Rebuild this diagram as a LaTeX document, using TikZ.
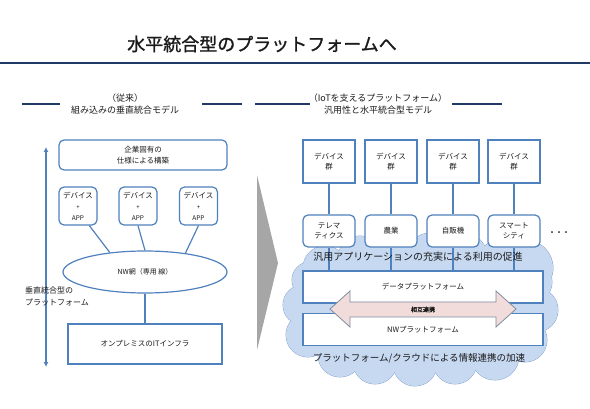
\documentclass[tikz,border=0pt]{standalone}
\usepackage{fontspec}
\setmainfont{Noto Sans CJK JP}
\newfontfamily\jpb[FakeBold=1.2]{Noto Sans CJK JP}
\newfontfamily\jpbb[FakeBold=3]{Noto Sans CJK JP}
\usetikzlibrary{shapes.geometric,arrows.meta}
\definecolor{bx}{HTML}{4F81BD}
\definecolor{navy}{HTML}{1F3A64}
\definecolor{cloudf}{HTML}{C6D9F1}
\definecolor{cloudb}{HTML}{7E9CC8}
\definecolor{pinkf}{HTML}{F2DCDB}
\definecolor{arrb}{HTML}{7F8CA0}
\definecolor{chev}{HTML}{A6A6A6}
\definecolor{txt}{HTML}{1A1A1A}
\begin{document}
\begin{tikzpicture}[x=1pt,y=-1pt,
  every node/.style={text=txt},
  box/.style={draw=bx, line width=1.2pt, fill=white, inner sep=0pt, align=center, font=\fontsize{7.5}{10.5}\selectfont},
  rbox/.style={box, rounded corners=5pt},
  conn/.style={draw=bx, line width=1.2pt},
  sub/.style={font=\fontsize{9}{12}\selectfont, align=center},
  hl/.style={draw=navy, line width=1.3pt},
  cloudc/.style={draw=cloudb, line width=0.8pt, fill=cloudf}]
\useasboundingbox (0,0) rectangle (590,409);

% title
\node (title) at (262,44) {\jpb\fontsize{18}{20}\selectfont 水平統合型のプラットフォームへ};
\draw[navy, line width=2.2pt] (0,63) -- (590,63);

% subtitles
\node[sub] (subL) at (125,104) {（従来）\\組み込みの垂直統合モデル};
\node[sub] (subR) at (378,104) {（IoTを支えるプラットフォーム）\\汎用性と水平統合型モデル};
\draw[hl] (22,104) -- (60,104);
\draw[hl] (202,104) -- (242,104);
\draw[hl] (255,104) -- (310,104);
\draw[hl] (452,104) -- (502,104);

% ---------- left ----------
\coordinate (vtop) at (46,147);
\coordinate (vbot) at (46,367);
\draw[conn,{Latex[length=5pt,width=5pt]}-{Latex[length=5pt,width=5pt]}] (vtop) -- (vbot);

\node[rbox, minimum width=168pt, minimum height=30pt] (corp) at (143,155) {企業固有の\\仕様による構築};
\foreach \n/\x in {1/78,2/138,3/198.5}{
  \node[rbox, minimum width=38pt, minimum height=38pt, font=\fontsize{7.5}{11}\selectfont] (dev\n) at (\x,206) {デバイス\\{\fontsize{6}{11}\selectfont +}\\{\fontsize{6.5}{11}\selectfont APP}};
}
\node[ellipse, draw=bx, line width=1.2pt, fill=white, minimum width=164pt, minimum height=42pt, inner sep=0pt, font=\fontsize{7}{9}\selectfont] (nw) at (145,272) {NW網（専用 線）};
\draw[conn] (dev1.-60) -- (nw.151);
\draw[conn] (dev2.south) -- (nw.north);
\draw[conn] (dev3.south) -- (nw.25);
\node[box, minimum width=154pt, minimum height=40pt] (onp) at (145,344) {オンプレミスのITインフラ};
\draw[conn] (nw.south) -- (onp.north);
\node[anchor=north west, align=left, font=\fontsize{8}{12}\selectfont, inner sep=0pt] (vlab) at (25,287) {垂直統合型の\\プラットフォーム};

% chevron
\fill[chev] (257,175) -- (278,263) -- (257,350) -- cycle;

% ---------- right : cloud ----------
\def\cloudlist{325/268/22, 360/258/22, 395/256/22, 430/255/22, 465/256/22, 500/262/22, 525/268/28, 530/282/22, 536/310/22, 525/340/22, 495/356/24, 455/362/22, 415/364/22, 375/362/22, 340/355/22, 308/335/22, 303/305/20, 310/280/18}
\foreach \x/\y/\r in \cloudlist { \draw[cloudc] (\x,\y) circle (\r pt); }
\foreach \x/\y/\r in \cloudlist { \fill[cloudf] (\x,\y) circle (\r pt); }
\fill[cloudf] (325,268) -- (360,258) -- (395,256) -- (430,255) -- (465,256) -- (500,262) -- (525,268) -- (530,282) -- (536,310) -- (525,340) -- (495,356) -- (455,362) -- (415,364) -- (375,362) -- (340,355) -- (308,335) -- (303,305) -- (310,280) -- cycle;

% ---------- right : boxes ----------
\node[box, minimum width=240pt, minimum height=32pt, line width=1.4pt] (data) at (423,287) {データプラットフォーム};
\node[box, minimum width=240pt, minimum height=32pt, line width=1.4pt] (nwp) at (423,329.5) {NWプラットフォーム};

\foreach \n/\x/\t in {1/329/{テレマ\\ティクス},2/391/{農業},3/453/{自販機},4/514/{スマート\\シティ}}{
  \node[box, minimum width=52pt, minimum height=43pt] (grp\n) at (\x,161.5) {デバイス\\群};
  \node[rbox, minimum width=52pt, minimum height=32pt] (app\n) at (\x,231) {\t};
  \draw[conn] (grp\n.south) -- (app\n.north);
  \draw[conn] (app\n.south) -- (app\n.south |- data.north);
}
\node[font=\fontsize{10}{12}\selectfont, inner sep=0pt] (gen) at (418,257) {汎用アプリケーションの充実による利用の促進};
\node[font=\jpbb\fontsize{7}{8}\selectfont, inner sep=0pt] (dots) at (559,233) {・・・};

% double arrow
\draw[draw=arrb, fill=pinkf, line width=0.8pt] (330,309) -- (350,291) -- (350,302) -- (496,302) -- (496,291) -- (516,309) -- (496,327) -- (496,317) -- (350,317) -- (350,327) -- cycle;
\node[font=\jpb\fontsize{6}{7}\selectfont, inner sep=0pt] (rel) at (423,309.5) {相互連携};

\node[font=\fontsize{9.5}{11}\selectfont, inner sep=0pt] (acc) at (419,358) {プラットフォーム/クラウドによる情報連携の加速};
\end{tikzpicture}
\end{document}
